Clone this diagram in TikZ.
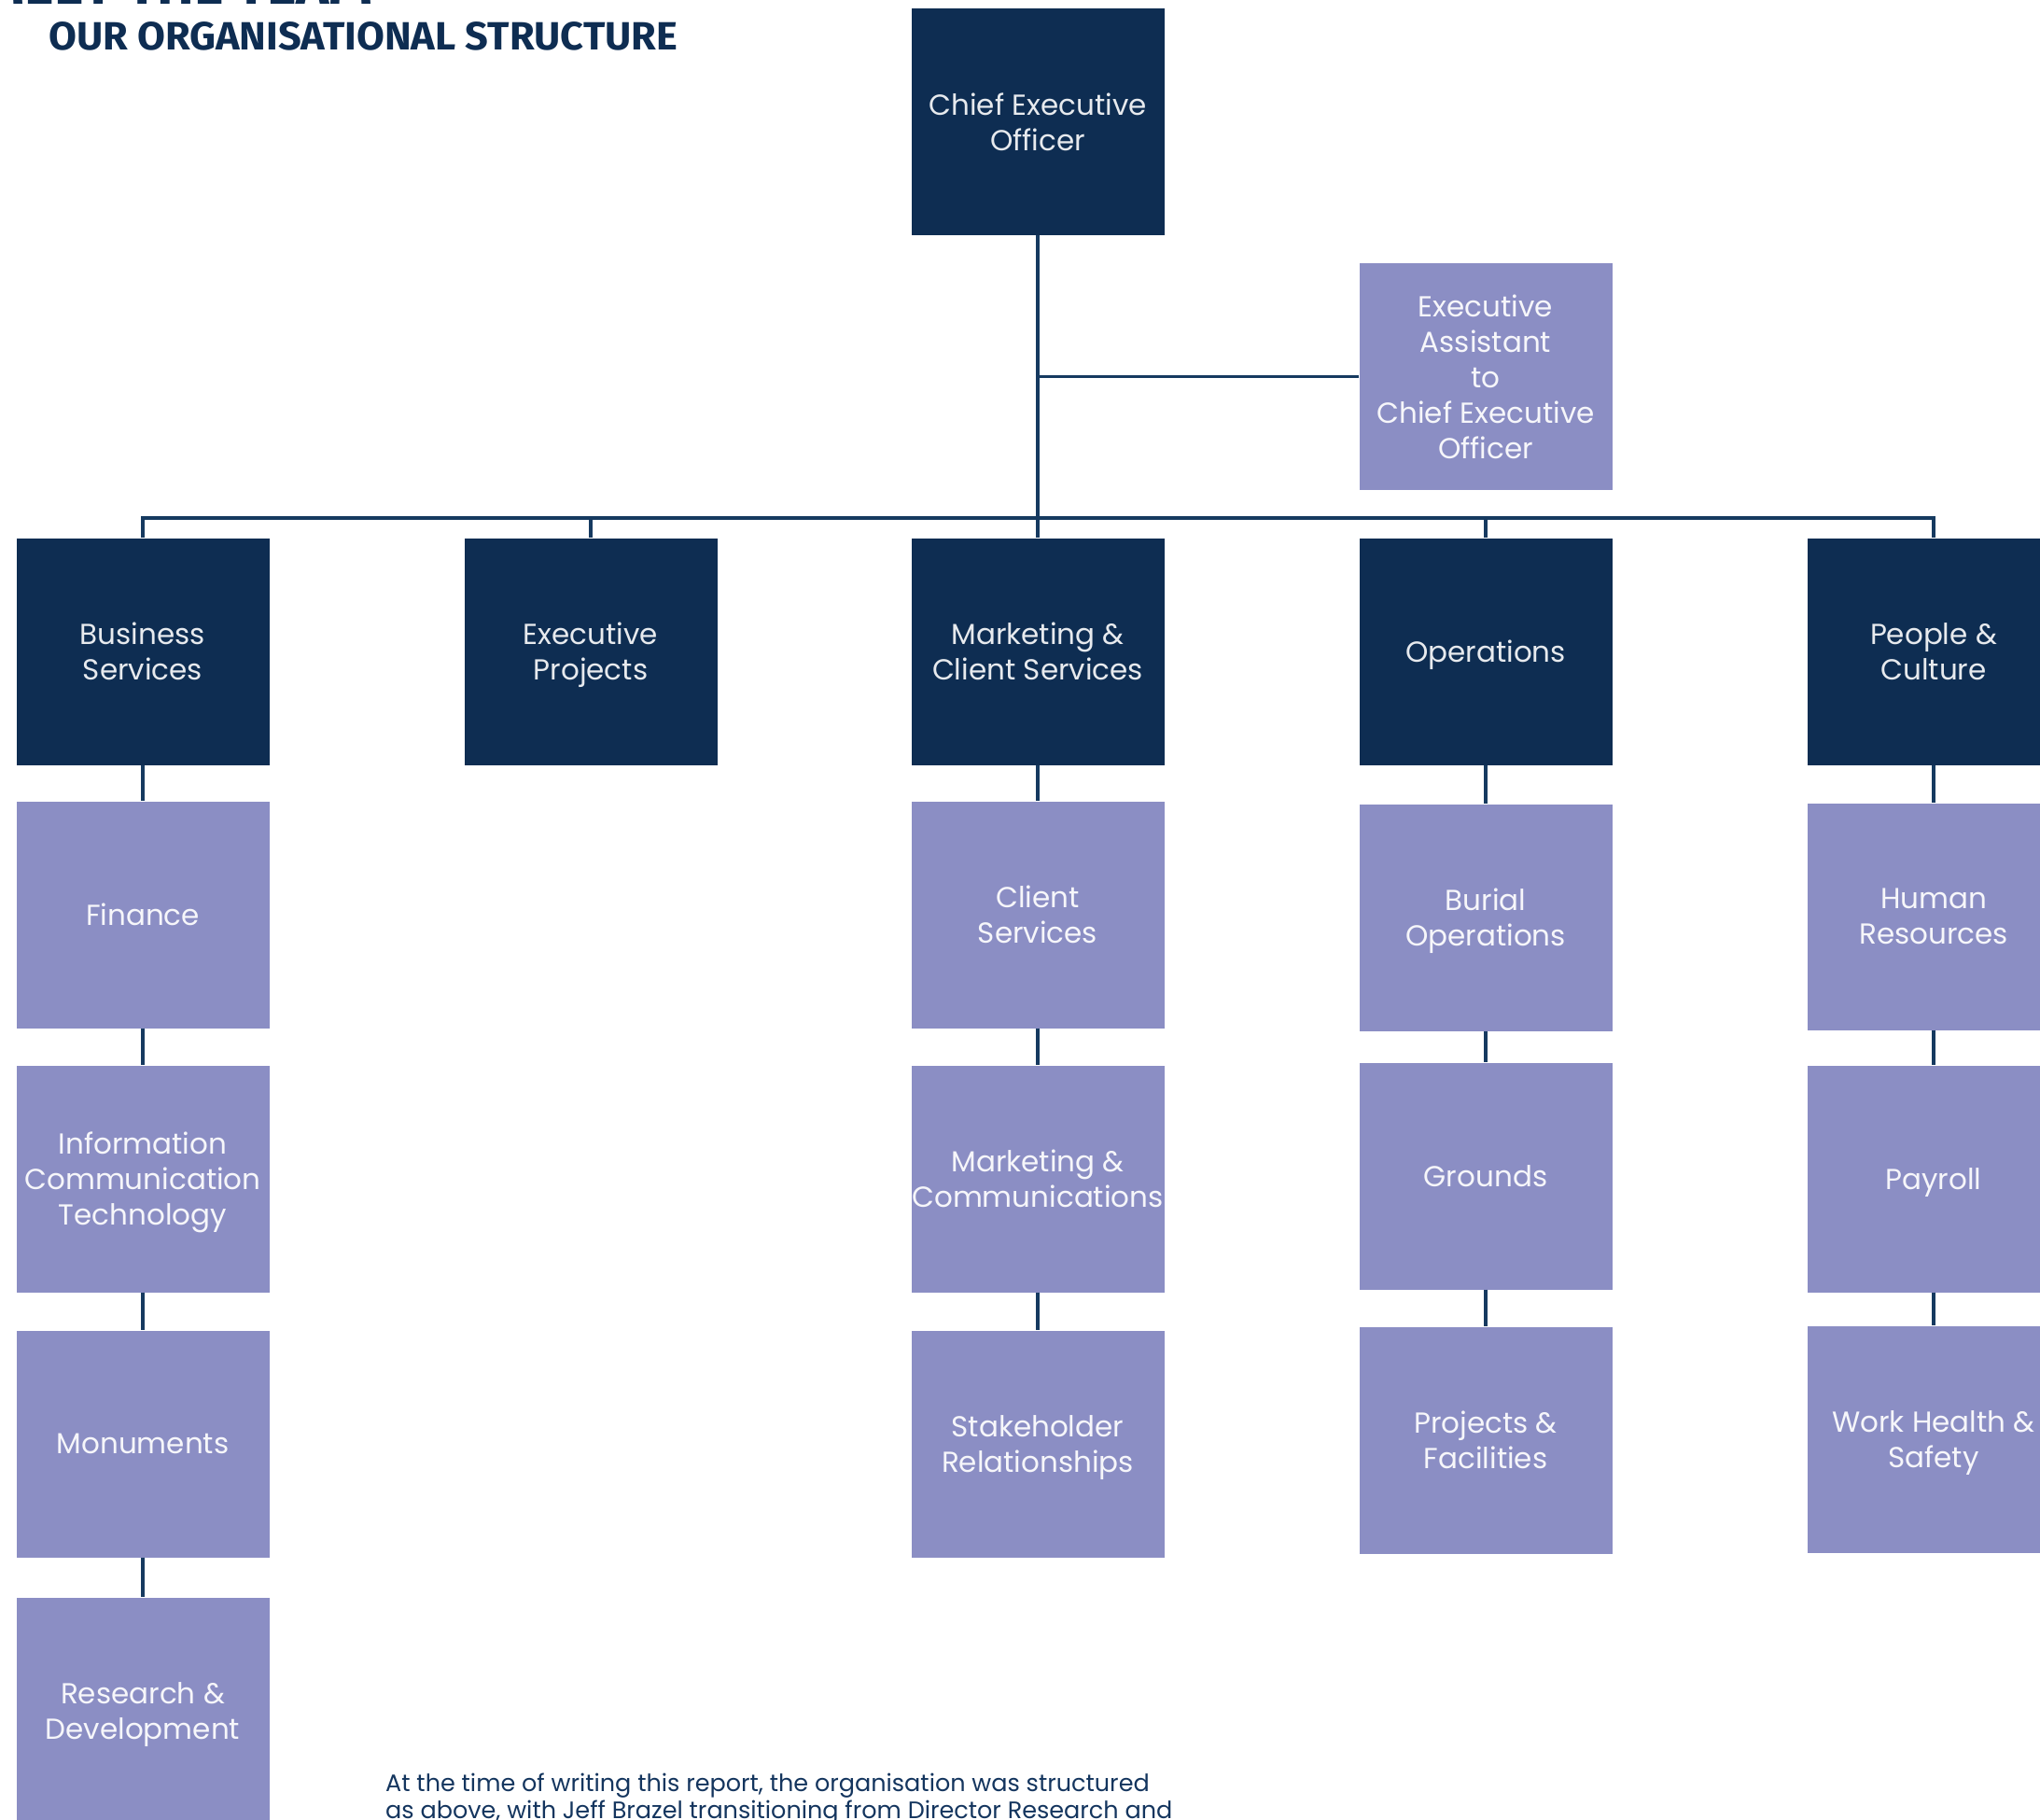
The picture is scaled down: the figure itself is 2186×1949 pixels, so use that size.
\documentclass[tikz,border=0pt]{standalone}
\usepackage{fontspec}
\setmainfont{Poppins}
\newfontfamily\titlefont{Fira Sans}
\definecolor{navy}{HTML}{0E2D52}
\definecolor{lav}{HTML}{8B8EC4}
\definecolor{txtnavy}{HTML}{14355E}
\definecolor{linec}{HTML}{163A60}
\tikzset{
  orgbox/.style={minimum width=271pt, minimum height=243pt, inner sep=0pt, align=center,
    text depth=0pt, font=\fontsize{31}{38}\selectfont},
  dark/.style={orgbox, fill=navy, text=white!90!navy},
  light/.style={orgbox, fill=lav, text=white!92!lav},
  conn/.style={draw=linec, line width=3.5pt}
}
\begin{document}
\begin{tikzpicture}[x=1pt,y=-1pt]
\useasboundingbox (0,0) rectangle (2186,1949);
\clip (0,0) rectangle (2186,1949);
% headings
\node[anchor=base east, inner sep=0pt, text=navy] (hd0) at (400,4)
  {\resizebox{420pt}{44pt}{\titlefont\bfseries MEET THE TEAM}};
\node[anchor=base west, inner sep=0pt, text=navy] (hd) at (52,53)
  {\resizebox{674pt}{30pt}{\titlefont\bfseries OUR ORGANISATIONAL STRUCTURE}};
% top
\node[dark] (ceo) at (1112,130.5) {Chief Executive\\Officer};
\node[light] (ea) at (1592,403.5) {Executive\\Assistant\\to\\Chief Executive\\Officer};
% row 1
\node[dark] (bs)  at (153,698)  {Business\\Services};
\node[dark] (ep)  at (633,698)  {Executive\\Projects};
\node[dark] (mcs) at (1112,698) {Marketing \&\\Client Services};
\node[dark] (ops) at (1592,698) {Operations};
\node[dark] (pc)  at (2072,698) {People \&\\Culture};
% column 1
\node[light] (fin) at (153,980)  {Finance};
\node[light] (ict) at (153,1263) {Information\\Communication\\Technology};
\node[light] (mon) at (153,1547) {Monuments};
\node[light] (rd)  at (153,1833) {Research \&\\Development};
% column 3
\node[light] (cs)  at (1112,980)  {Client\\Services};
\node[light] (mc)  at (1112,1263) {Marketing \&\\Communications};
\node[light] (sr)  at (1112,1547) {Stakeholder\\Relationships};
% column 4
\node[light] (bo)  at (1592,983)  {Burial\\Operations};
\node[light] (gr)  at (1592,1260) {Grounds};
\node[light] (pf)  at (1592,1543) {Projects \&\\Facilities};
% column 5
\node[light] (hr)  at (2072,982)  {Human\\Resources};
\node[light] (pay) at (2072,1263) {Payroll};
\node[light] (whs) at (2072,1542) {Work Health \&\\Safety};
% text
\node[anchor=base west, inner sep=0pt, align=left, text=txtnavy,
  font=\fontsize{25.5}{29}\selectfont] (note) at (413,1948)
  {At the time of writing this report, the organisation was structured\\
   as above, with Jeff Brazel transitioning from Director Research and};
% connectors
\coordinate (bus) at (1112,555);
\draw[conn] (ceo.south) -- (mcs.north);
\draw[conn] (ea.west) -- (ea.west -| ceo.south);
\draw[conn] (bs.north) |- (bus) -| (pc.north);
\draw[conn] (ep.north) -- (ep.north |- bus);
\draw[conn] (ops.north) -- (ops.north |- bus);
\draw[conn] (bs.south) -- (fin.north);
\draw[conn] (fin.south) -- (ict.north);
\draw[conn] (ict.south) -- (mon.north);
\draw[conn] (mon.south) -- (rd.north);
\draw[conn] (mcs.south) -- (cs.north);
\draw[conn] (cs.south) -- (mc.north);
\draw[conn] (mc.south) -- (sr.north);
\draw[conn] (ops.south) -- (bo.north);
\draw[conn] (bo.south) -- (gr.north);
\draw[conn] (gr.south) -- (pf.north);
\draw[conn] (pc.south) -- (hr.north);
\draw[conn] (hr.south) -- (pay.north);
\draw[conn] (pay.south) -- (whs.north);
\end{tikzpicture}
\end{document}
